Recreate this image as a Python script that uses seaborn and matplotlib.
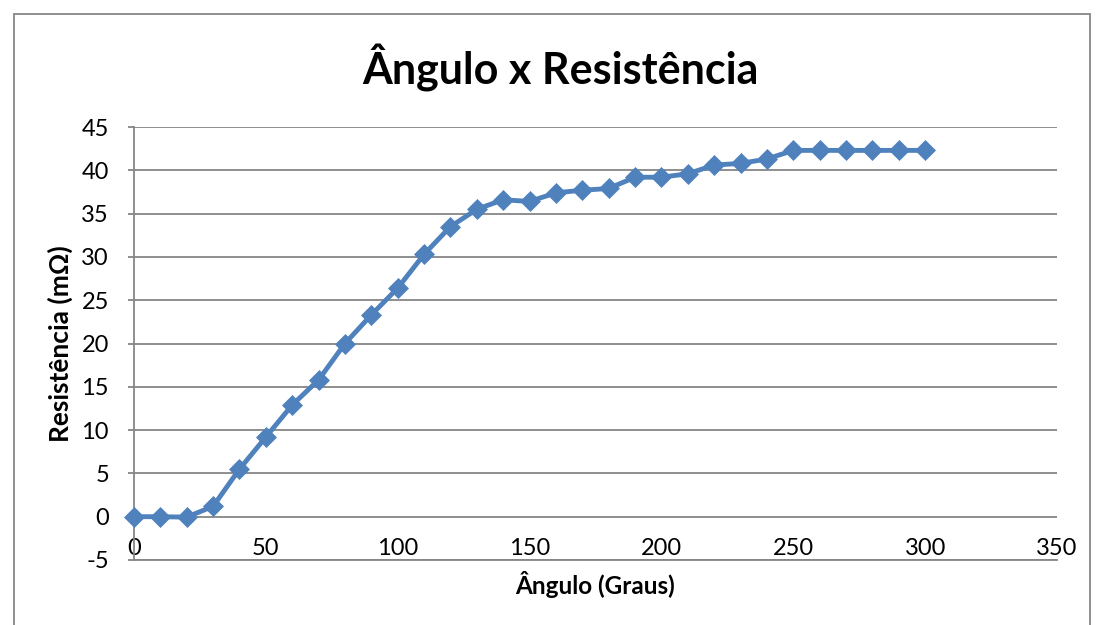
import matplotlib
matplotlib.use("Agg")
import matplotlib.pyplot as plt
import seaborn as sns
import pandas as pd
from matplotlib.patches import Rectangle

angles = [0, 10, 20, 30, 40, 50, 60, 70, 80, 90, 100, 110, 120, 130, 140, 150,
          160, 170, 180, 190, 200, 210, 220, 230, 240, 250, 260, 270, 280, 290, 300]
resist = [0.0, 0.0, -0.05, 1.2, 5.5, 9.2, 12.9, 15.8, 20.0, 23.3, 26.4, 30.3, 33.5, 35.5, 36.6, 36.4,
          37.4, 37.7, 37.9, 39.2, 39.2, 39.6, 40.6, 40.8, 41.3, 42.3, 42.3, 42.3, 42.3, 42.3, 42.3]
xticks = [0, 50, 100, 150, 200, 250, 300, 350]
yticks = [-5, 0, 5, 10, 15, 20, 25, 30, 35, 40, 45]
title = "Ângulo x Resistência"
xlabel = "Ângulo (Graus)"
ylabel = "Resistência (mΩ)"

sns.set_theme(style="white")
plt.rcParams['font.family'] = ['Lato', 'DejaVu Sans']
plt.rcParams['text.color'] = 'black'

df = pd.DataFrame({"ang": angles, "res": resist})

fig = plt.figure(figsize=(10.98, 6.25), dpi=100)
ax = fig.add_axes([134/1098, 1-560/625, (1057-134)/1098, (560-127)/625])

blue = "#4F81BD"
grid_c = "#868686"

for yv in yticks:
    ax.axhline(yv, color=grid_c, lw=1.3, zorder=1)

sns.lineplot(data=df, x="ang", y="res", ax=ax, color=blue, lw=3.5,
             marker="D", markersize=10.5, markeredgecolor=blue, markeredgewidth=0.5,
             zorder=3, clip_on=False)

ax.set_xlim(0, 350)
ax.set_ylim(-5, 45)
ax.set_xticks(xticks)
ax.set_yticks(yticks)
ax.set_xticklabels([str(v) for v in xticks], fontsize=17, color="black")
ax.set_yticklabels([str(v) for v in yticks], fontsize=17, color="black")
ax.tick_params(axis="y", length=4, color=grid_c, width=1.3, pad=14, direction="out", left=True)
ax.tick_params(axis="x", length=0, pad=-16)

for s in ["top", "right"]:
    ax.spines[s].set_visible(False)
for s in ["left", "bottom"]:
    ax.spines[s].set_color(grid_c)
    ax.spines[s].set_linewidth(1.3)

ax.set_xlabel(xlabel, fontsize=17.5, fontweight="bold", color="black")
ax.set_ylabel(ylabel, fontsize=19, fontweight="bold", color="black")
ax.xaxis.set_label_coords(0.5, -0.025)
ax.yaxis.set_label_coords(-0.066, 0.5)
ax.grid(False)

fig.text(560/1098, 1-68/625, title, ha="center", va="center", fontsize=31,
         fontweight="bold", color="black")

fig.patches.append(Rectangle((14/1098, -0.05), (1090-14)/1098, 1.05-14/625,
                             transform=fig.transFigure, fill=False, edgecolor=grid_c, lw=1.3))

fig.savefig("out.png", dpi=100)
